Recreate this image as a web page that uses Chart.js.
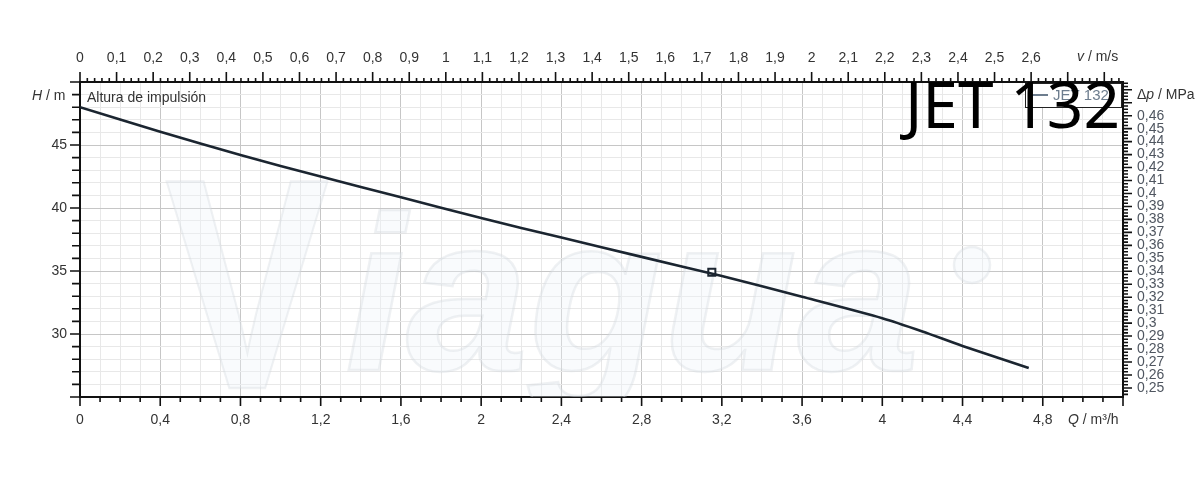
<!DOCTYPE html>
<html>
<head>
<meta charset="utf-8">
<script src="https://cdn.jsdelivr.net/npm/chart.js@4.4.1/dist/chart.umd.min.js"></script>
<style>
  html, body { margin: 0; padding: 0; background: #fff; }
  #caja { width: 1200px; height: 477px; }
</style>
</head>
<body>
<div id="caja"><canvas id="graficoCurva"></canvas></div>
<script>
/* Curva de la bomba JET 132: altura de impulsión H frente a caudal Q */

const caudalQ = [0, 0.4, 0.8, 1.2, 1.6, 2.0, 2.4, 2.8, 3.2, 3.6, 4.0, 4.2, 4.4, 4.73];
const alturaH = [48.0, 46.05, 44.2, 42.5, 40.85, 39.2, 37.65, 36.12, 34.6, 32.95, 31.25, 30.2, 29.05, 27.3];
const puntoTrabajo = [{ x: 3.15, y: 34.9 }];

const etiquetasQ = [0, 0.4, 0.8, 1.2, 1.6, 2, 2.4, 2.8, 3.2, 3.6, 4, 4.4, 4.8];
const etiquetasV = [0, 0.1, 0.2, 0.3, 0.4, 0.5, 0.6, 0.7, 0.8, 0.9, 1, 1.1, 1.2, 1.3, 1.4, 1.5, 1.6, 1.7, 1.8, 1.9, 2, 2.1, 2.2, 2.3, 2.4, 2.5, 2.6];
const etiquetasH = [30, 35, 40, 45];
const etiquetasDp = [0.25, 0.26, 0.27, 0.28, 0.29, 0.3, 0.31, 0.32, 0.33, 0.34, 0.35, 0.36, 0.37, 0.38, 0.39, 0.4, 0.41, 0.42, 0.43, 0.44, 0.45, 0.46];

const Q_MAX = 5.2, H_MIN = 25, H_MAX = 50;
const V_POR_Q = 0.5483;    // tubería de 1"
const DP_POR_H = 0.00972;  // MPa por metro

const fuente = { family: 'Liberation Sans', size: 14 };
const colorTexto = '#333';
const colorCurva = '#1b2530';

function pasos(min, max, paso) {
  const out = [];
  for (let i = Math.ceil(min / paso - 1e-9); i * paso <= max + 1e-9; i++) out.push(+(i * paso).toFixed(6));
  return out;
}
const esDe = (arr, v) => arr.some(e => Math.abs(e - v) < 1e-6);
const coma = v => String(+(+v).toFixed(3)).replace('.', ',');
const multiplo = (v, m) => Math.abs(v / m - Math.round(v / m)) < 1e-6;

/* --------- marcas de los ejes (largas y cortas) --------- */
const marcas = {
  id: 'marcas',
  afterDraw(chart) {
    const ctx = chart.ctx;
    const conf = {
      x:  { mayor: v => multiplo(v, 0.4), l: [9, 5] },
      x2: { mayor: v => multiplo(v, 0.1), l: [10, 4] },
      y:  { mayor: v => multiplo(v, 5), l: [10, 8] },
      y2: { mayor: v => multiplo(v, 0.01), l: [9, 5] }
    };
    ctx.save();
    ctx.strokeStyle = '#111';
    ctx.lineWidth = 1.6;
    ctx.beginPath();
    for (const id in conf) {
      const s = chart.scales[id], c = conf[id];
      for (const t of s.ticks) {
        const p = s.getPixelForValue(t.value);
        const l = c.mayor(t.value) ? c.l[0] : c.l[1];
        if (id === 'x')  { ctx.moveTo(p, s.top); ctx.lineTo(p, s.top + l); }
        if (id === 'x2') { ctx.moveTo(p, s.bottom); ctx.lineTo(p, s.bottom - l); }
        if (id === 'y')  { ctx.moveTo(s.right, p); ctx.lineTo(s.right - l, p); }
        if (id === 'y2') { ctx.moveTo(s.left, p); ctx.lineTo(s.left + l, p); }
      }
    }
    ctx.stroke();
    ctx.restore();
  }
};

/* --------- marca de agua tenue --------- */
const marcaAgua = {
  id: 'marcaAgua',
  beforeDatasetsDraw(chart) {
    const ctx = chart.ctx, a = chart.chartArea;
    ctx.save();
    ctx.beginPath(); ctx.rect(a.left, a.top, a.width, a.height); ctx.clip();
    ctx.fillStyle = 'rgba(238,243,249,0.35)';
    ctx.strokeStyle = 'rgba(210,214,220,0.35)';
    ctx.lineWidth = 2.5;
    ctx.textBaseline = 'alphabetic';
    ctx.font = 'bold 300px "Liberation Sans"';
    ctx.save(); ctx.translate(165, 388); ctx.scale(0.82, 1);
    ctx.fillText('V', 0, 0); ctx.strokeText('V', 0, 0);
    ctx.restore();
    ctx.font = 'italic bold 220px "Liberation Sans"';
    ctx.fillText('iagua', 345, 370); ctx.strokeText('iagua', 345, 370);
    ctx.beginPath(); ctx.arc(972, 265, 18, 0, Math.PI * 2); ctx.fill(); ctx.stroke();
    ctx.restore();
  }
};

/* --------- textos, leyenda y título --------- */
const textos = {
  id: 'textos',
  afterDraw(chart) {
    const ctx = chart.ctx;
    const f = (estilo, size) => `${estilo} ${size}px "Liberation Sans"`;
    const par = (x, y, cursiva, resto, size = 14) => {
      ctx.font = f('italic', size); ctx.fillText(cursiva, x, y);
      const w = ctx.measureText(cursiva).width;
      ctx.font = f('normal', size); ctx.fillText(resto, x + w, y);
    };
    ctx.save();
    ctx.fillStyle = colorTexto;
    ctx.textBaseline = 'middle';
    ctx.textAlign = 'left';
    ctx.font = f('normal', 14);
    ctx.fillText('Altura de impulsión', 87, 98);
    par(32, 96, 'H', ' / m');
    par(1077, 57, 'v', ' / m/s');
    par(1068, 420, 'Q', ' / m³/h');
    ctx.font = f('normal', 14); ctx.fillText('Δ', 1137, 95);
    par(1137 + ctx.measureText('Δ').width, 95, 'p', ' / MPa');

    // leyenda
    ctx.fillStyle = '#fff';
    ctx.fillRect(1025, 83, 96, 24);
    ctx.strokeStyle = '#222'; ctx.lineWidth = 1;
    ctx.strokeRect(1025.5, 83.5, 96, 24);
    ctx.strokeStyle = '#6d7d8e'; ctx.lineWidth = 2;
    ctx.beginPath(); ctx.moveTo(1030, 95); ctx.lineTo(1048, 95); ctx.stroke();
    ctx.fillStyle = '#6d7d8e';
    ctx.font = f('normal', 15);
    ctx.fillText('JET 132', 1053, 96);

    // título grande
    ctx.fillStyle = '#000';
    ctx.textAlign = 'right';
    ctx.textBaseline = 'alphabetic';
    ctx.font = '64px "Noto Sans"';
    ctx.fillText('JET 132', 1120, 128);
    ctx.restore();
  }
};

const ejeComun = (extra) => Object.assign({
  type: 'linear',
  border: { display: true, color: '#111', width: 2 }
}, extra);

new Chart(document.getElementById('graficoCurva'), {
  type: 'scatter',
  data: {
    datasets: [{
      label: 'JET 132',
      data: caudalQ.map((q, i) => ({ x: q, y: alturaH[i] })),
      showLine: true,
      borderColor: colorCurva,
      borderWidth: 2.6,
      pointRadius: 0,
      tension: 0.25,
      xAxisID: 'x', yAxisID: 'y'
    }, {
      label: 'Punto de trabajo',
      data: puntoTrabajo,
      showLine: false,
      pointStyle: 'rect',
      pointRadius: 5,
      backgroundColor: '#fff',
      borderColor: colorCurva,
      borderWidth: 2,
      xAxisID: 'x', yAxisID: 'y'
    }]
  },
  options: {
    responsive: true,
    maintainAspectRatio: false,
    animation: false,
    layout: { padding: 0 },
    plugins: { legend: { display: false }, tooltip: { enabled: false } },
    scales: {
      x: ejeComun({
        position: 'bottom', min: 0, max: Q_MAX,
        afterBuildTicks: s => { s.ticks = pasos(0, Q_MAX, 0.1).map(v => ({ value: v })); },
        afterFit: s => { s.height = 80; },
        grid: { color: c => (c.tick && multiplo(c.tick.value, 0.4)) ? '#c6c6c6' : '#e8e8e8', drawTicks: false },
        ticks: { autoSkip: false, maxRotation: 0, color: colorTexto, font: fuente, padding: 15,
                 callback: v => esDe(etiquetasQ, v) ? coma(v) : '' }
      }),
      x2: ejeComun({
        position: 'top', min: 0, max: Q_MAX * V_POR_Q,
        afterBuildTicks: s => { s.ticks = pasos(0, Q_MAX * V_POR_Q, 0.02).map(v => ({ value: v })); },
        afterFit: s => { s.height = 82; },
        grid: { drawOnChartArea: false, drawTicks: false },
        ticks: { autoSkip: false, maxRotation: 0, color: colorTexto, font: fuente, padding: 15,
                 callback: v => esDe(etiquetasV, v) ? coma(v) : '' }
      }),
      y: ejeComun({
        position: 'left', min: H_MIN, max: H_MAX,
        afterBuildTicks: s => { s.ticks = pasos(H_MIN, H_MAX, 1).map(v => ({ value: v })); },
        afterFit: s => { s.width = 80; },
        grid: { color: c => (c.tick && multiplo(c.tick.value, 5)) ? '#c6c6c6' : '#e8e8e8', drawTicks: false },
        ticks: { autoSkip: false, color: colorTexto, font: fuente, padding: 13,
                 callback: v => esDe(etiquetasH, v) ? coma(v) : '' }
      }),
      y2: ejeComun({
        position: 'right', min: H_MIN * DP_POR_H, max: H_MAX * DP_POR_H,
        afterBuildTicks: s => { s.ticks = pasos(H_MIN * DP_POR_H, H_MAX * DP_POR_H, 0.0025).map(v => ({ value: v })); },
        afterFit: s => { s.width = 77; },
        grid: { drawOnChartArea: false, drawTicks: false },
        ticks: { autoSkip: false, color: '#4f5660', font: { family: 'Liberation Sans', size: 14 }, padding: 14,
                 callback: v => esDe(etiquetasDp, v) ? coma(v) : '' }
      })
    }
  },
  plugins: [marcaAgua, marcas, textos]
});
</script>
</body>
</html>
